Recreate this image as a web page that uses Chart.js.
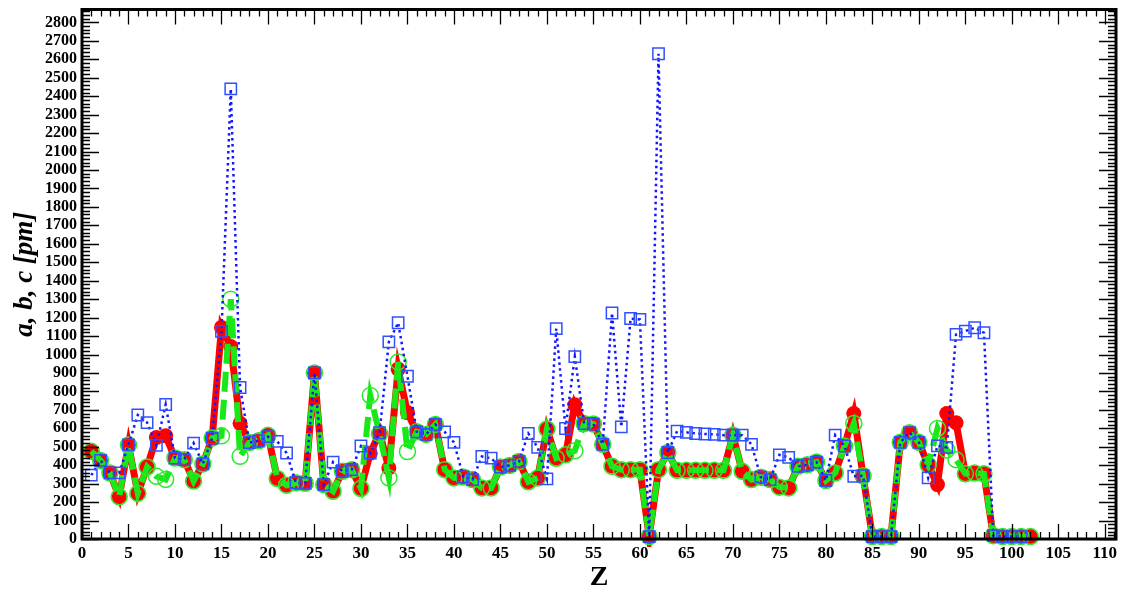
<!DOCTYPE html>
<html>
<head>
<meta charset="utf-8">
<script src="https://cdn.jsdelivr.net/npm/chart.js@4.4.1/dist/chart.umd.min.js"></script>
<style>
  html, body { margin: 0; padding: 0; background: #fff; }
</style>
</head>
<body>
<canvas id="latticeChart" width="1126" height="595"></canvas>
<script>
// atomic number
var zValues = [1, 2, 3, 4, 5, 6, 7, 8, 9, 10, 11, 12, 13, 14, 15, 16, 17, 18, 19, 20,
  21, 22, 23, 24, 25, 26, 27, 28, 29, 30, 31, 32, 33, 34, 35, 36, 37, 38, 39, 40,
  41, 42, 43, 44, 45, 46, 47, 48, 49, 50, 51, 52, 53, 54, 55, 56, 57, 58, 59, 60,
  61, 62, 63, 64, 65, 66, 67, 68, 69, 70, 71, 72, 73, 74, 75, 76, 77, 78, 79, 80,
  81, 82, 83, 84, 85, 86, 87, 88, 89, 90, 91, 92, 93, 94, 95, 96, 97, 98, 99, 100,
  101, 102];

// lattice constant a (red)
var aValues = [475, 426, 358, 229, 510, 247, 390, 550, 559, 439, 430, 314, 407, 547, 1147, 1043, 627, 523, 532, 562,
  328, 292, 305, 302, 900, 295, 259, 367, 376, 274, 465, 576, 385, 921, 685, 581, 567, 621, 376, 331,
  336, 322, 277, 277, 390, 399, 420, 310, 331, 596, 438, 456, 728, 626, 623, 513, 394, 376, 376, 376,
  13, 376, 469, 372, 372, 372, 372, 372, 372, 563, 367, 322, 335, 322, 281, 277, 394, 402, 417, 317,
  358, 504, 680, 343, 13, 13, 13, 524, 576, 524, 402, 295, 680, 630, 354, 358, 354, 18, 13, 13,
  13, 13];

// lattice constant b (green)
var bValues = [475, 426, 358, 229, 510, 247, 390, 340, 323, 439, 430, 314, 407, 547, 559, 1300, 448, 523, 532, 562,
  328, 292, 305, 302, 900, 295, 259, 367, 376, 274, 778, 570, 331, 960, 474, 581, 567, 621, 376, 331,
  336, 322, 277, 277, 390, 399, 420, 310, 331, 596, 438, 456, 478, 626, 623, 513, 394, 376, 376, 376,
  13, 376, 469, 372, 372, 372, 372, 372, 372, 563, 367, 322, 335, 322, 281, 277, 394, 402, 417, 317,
  358, 504, 626, 343, 13, 13, 13, 524, 576, 524, 402, 599, 483, 430, 354, 358, 354, 18, 13, 13,
  13, 13];

// lattice constant c (blue)
var cValues = [346, 426, 358, 358, 510, 672, 631, 507, 729, 439, 430, 520, 407, 547, 1125, 2440, 821, 523, 532, 555,
  529, 466, 305, 302, 900, 295, 417, 367, 376, 504, 465, 576, 1068, 1172, 882, 581, 567, 621, 581, 524,
  336, 322, 447, 438, 390, 399, 420, 572, 497, 326, 1140, 599, 989, 626, 623, 513, 1225, 608, 1195, 1190,
  13, 2630, 469, 585, 578, 572, 569, 567, 563, 563, 563, 513, 335, 322, 456, 442, 394, 402, 417, 317,
  563, 504, 340, 343, 13, 13, 13, 524, 576, 524, 331, 505, 497, 1109, 1127, 1145, 1118, 18, 13, 13,
  13, null];

var xTickLabels = [0, 5, 10, 15, 20, 25, 30, 35, 40, 45, 50, 55, 60, 65, 70, 75, 80, 85, 90, 95, 100, 105, 110];
var yTickLabels = [0, 100, 200, 300, 400, 500, 600, 700, 800, 900, 1000, 1100, 1200, 1300, 1400,
  1500, 1600, 1700, 1800, 1900, 2000, 2100, 2200, 2300, 2400, 2500, 2600, 2700, 2800];

function toPoints(values) {
  return zValues.map(function (z, i) { return { x: z, y: values[i] }; });
}

// frame with inward major/minor ticks on all four sides
var frameTicks = {
  id: 'frameTicks',
  afterDatasetsDraw: function (chart) {
    var ctx = chart.ctx, area = chart.chartArea;
    var xs = chart.scales.x, ys = chart.scales.y;
    ctx.save();
    ctx.strokeStyle = '#000';
    ctx.lineWidth = 1.3;
    ctx.beginPath();
    for (var v = 0; v <= xs.max; v += 1) {
      var px = Math.round(xs.getPixelForValue(v)) + 0.5;
      var len = (v % 5 === 0) ? 15 : 7;
      ctx.moveTo(px, area.bottom); ctx.lineTo(px, area.bottom - len);
      ctx.moveTo(px, area.top); ctx.lineTo(px, area.top + len);
    }
    for (var w = 0; w <= ys.max; w += 20) {
      var py = Math.round(ys.getPixelForValue(w)) + 0.5;
      var l2 = (w % 100 === 0) ? 17 : 8;
      ctx.moveTo(area.left, py); ctx.lineTo(area.left + l2, py);
      ctx.moveTo(area.right, py); ctx.lineTo(area.right - l2, py);
    }
    ctx.stroke();
    ctx.lineWidth = 3;
    ctx.strokeRect(area.left, area.top, area.right - area.left, area.bottom - area.top);
    ctx.restore();
  }
};

var markClip = { left: 14, right: 14, top: 14, bottom: 8 };

var latt = document.getElementById('latticeChart').getContext('2d');
var myChart = new Chart(latt, {
  type: 'line',
  data: {
    datasets: [{
      label: 'c',
      data: toPoints(cValues),
      borderColor: '#1515ff',
      borderWidth: 2.5,
      borderDash: [2.5, 3.5],
      pointStyle: 'rect',
      pointRadius: 8,
      pointBorderWidth: 1.5,
      pointBorderColor: '#3050ff',
      pointBackgroundColor: 'rgba(0,0,0,0)',
      tension: 0,
      clip: markClip,
      order: 1
    }, {
      label: 'b',
      data: toPoints(bValues),
      borderColor: '#18e818',
      borderWidth: 6,
      borderDash: [20, 8],
      pointStyle: 'circle',
      pointRadius: 8,
      pointBorderWidth: 1.5,
      pointBorderColor: '#2ee82e',
      pointBackgroundColor: 'rgba(0,0,0,0)',
      tension: 0,
      clip: markClip,
      order: 2
    }, {
      label: 'a',
      data: toPoints(aValues),
      borderColor: '#ff0000',
      borderWidth: 7,
      pointStyle: 'circle',
      pointRadius: 7.5,
      pointBorderWidth: 0,
      pointBackgroundColor: '#ff0000',
      tension: 0,
      clip: markClip,
      order: 3
    }]
  },
  options: {
    responsive: false,
    animation: false,
    devicePixelRatio: 1,
    layout: { padding: { top: 7, right: 10, left: 0, bottom: 0 } },
    plugins: {
      legend: { display: false },
      tooltip: { enabled: false }
    },
    scales: {
      x: {
        type: 'linear',
        min: 0,
        max: 111.2,
        afterBuildTicks: function (scale) {
          scale.ticks = xTickLabels.map(function (v) { return { value: v }; });
        },
        afterFit: function (scale) {
          scale.height = 56;
          scale.paddingLeft = 0;
          scale.paddingRight = 0;
        },
        grid: { display: false, drawTicks: false },
        border: { display: false },
        ticks: {
          padding: 4,
          color: '#000',
          maxRotation: 0,
          autoSkip: false,
          callback: function (v) { return String(v); },
          font: { family: 'Liberation Serif', size: 17, weight: 'bold' }
        },
        title: {
          display: true,
          text: 'Z',
          color: '#000',
          padding: { top: 0, bottom: 0 },
          font: { family: 'Liberation Serif', size: 28, weight: 'bold' }
        }
      },
      y: {
        min: 0,
        max: 2870,
        afterBuildTicks: function (scale) {
          scale.ticks = yTickLabels.map(function (v) { return { value: v }; });
        },
        afterFit: function (scale) {
          scale.width = 82;
          scale.paddingTop = 0;
          scale.paddingBottom = 0;
        },
        grid: { display: false, drawTicks: false },
        border: { display: false },
        ticks: {
          padding: 5,
          color: '#000',
          autoSkip: false,
          callback: function (v) { return String(v); },
          font: { family: 'Liberation Serif', size: 16, weight: 'bold' }
        },
        title: {
          display: true,
          text: 'a, b, c [pm]',
          color: '#000',
          padding: { top: 9, bottom: 0 },
          font: { family: 'Liberation Serif', size: 27, weight: 'bold', style: 'italic' }
        }
      }
    }
  },
  plugins: [frameTicks]
});
</script>
</body>
</html>
